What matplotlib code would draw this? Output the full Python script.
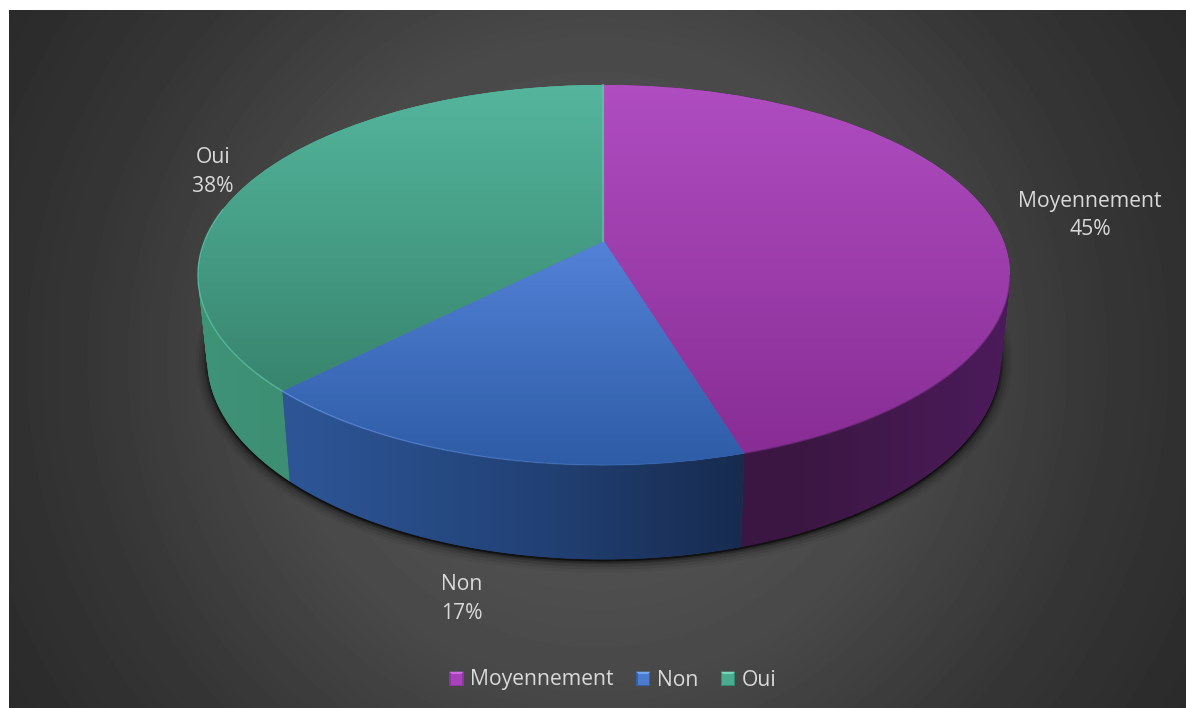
import numpy as np
import matplotlib
matplotlib.use("Agg")
import matplotlib.pyplot as plt
from matplotlib.collections import LineCollection
from matplotlib.colors import LinearSegmentedColormap, to_rgb
from matplotlib.legend_handler import HandlerBase
from matplotlib.patches import Patch, PathPatch, Polygon, Rectangle
from matplotlib.path import Path
from matplotlib.transforms import Transform

plt.rcParams["font.family"] = ["Open Sans", "DejaVu Sans"]

# donnees
categories = ["Moyennement", "Non", "Oui"]
values = [45.3, 17.1, 37.6]

# couleurs (haut, bas) de chaque part
top_colors = [("#AF4DC1", "#872C93"), ("#5382D8", "#2E5CA6"), ("#54B69D", "#37836C")]
top_spans = [(85, 465), (240, 465), (85, 400)]
wall_colors = [("#391640", "#3C1743", "#4C1B5B"), ("#2E5697", "#23447A", "#172B4F"), ("#3F9377", "#3B8970", "#367E67")]
rim_colors = ["#5A2266", "#6E9BE8", "#62CBAF"]
rim_alpha = [(0.7, 0.7), (0.7, 0.0), (0.7, 0.7)]
legend_colors = [("#8E35A2", "#CF6AE2", "#A841BA"), ("#34609F", "#76A5EE", "#4A7BCF"), ("#338A70", "#78D8BC", "#4AAB8F")]
label_xy = [(1090, 215.5), (462, 599), (213, 172)]


class PieProjection(Transform):
    # perspective du disque unite vers les pixels de l'image
    input_dims = 2
    output_dims = 2

    def __init__(self, a, b, k, cx, cy):
        super().__init__()
        self.a, self.b, self.k, self.cx, self.cy = a, b, k, cx, cy

    def transform_non_affine(self, values):
        u, v = np.asarray(values, dtype=float).T
        d = 1 + self.k * v
        return np.column_stack([self.cx + self.a * u / d, self.cy - self.b * v / d])


class BevelHandler(HandlerBase):
    def create_artists(self, legend, handle, x, y, w, h, fontsize, trans):
        dark, light, mid = handle.bevel
        s = 10.2
        x0 = x + (w - s) / 2
        y0 = y + (h - s) / 2 - 0.5
        e = 1.6
        base = Rectangle((x0, y0), s, s, fc=dark, ec="none", transform=trans)
        center = Rectangle((x0 + 1, y0 + 1), s - 2, s - 2, fc=mid, ec="none", transform=trans)
        top = Polygon([(x0, y0 + s), (x0 + s, y0 + s), (x0 + s - e, y0 + s - e), (x0 + e, y0 + s - e)],
                      fc=light, ec="none", transform=trans)
        return [base, center, top]


fig = plt.figure(figsize=(11.86, 7.08), dpi=100, facecolor="white")
ax = fig.add_axes([0, 0, 1, 1])

wedges, _ = ax.pie(values, startangle=90, counterclock=False, radius=1, colors=[c[0] for c in top_colors])
ax.set_aspect("auto")
ax.axis("off")

top_proj = PieProjection(399.5, 184, 0.179, 604, 241)
low_proj = PieProjection(390.5, 194, 0.179, 604, 323)
tangent = np.degrees(np.arcsin(0.179))

# fond degrade radial
yy, xx = np.mgrid[10:708, 9:1186]
r = np.hypot(xx - 597, yy - 359)
bg = np.interp(r, [0, 320, 507, 690], [90, 73, 54, 42]) / 255
ax.imshow(bg, extent=(9, 1186, 708, 10), cmap="gray", vmin=0, vmax=1, aspect="auto", zorder=0)


def arc(theta1, theta2, n=240):
    t = np.radians(np.linspace(theta1, theta2, n))
    return np.column_stack([np.cos(t), np.sin(t)])


def band_path(theta1, theta2):
    # flanc d'une part : petits quadrilateraux tous orientes pareil
    pts = arc(theta1, theta2)
    top = top_proj.transform(pts)
    low = low_proj.transform(pts)
    verts, codes = [], []
    for i in range(len(pts) - 1):
        q = np.array([top[i], top[i + 1], low[i + 1], low[i]])
        x, y = q.T
        if np.dot(x, np.roll(y, -1)) - np.dot(y, np.roll(x, -1)) < 0:
            q = q[::-1]
        verts += list(q) + [q[0]]
        codes += [Path.MOVETO, Path.LINETO, Path.LINETO, Path.LINETO, Path.CLOSEPOLY]
    return Path(verts, codes), np.vstack([top, low])


# ombre sous le camembert
outline = low_proj.transform(arc(0, 360, 360)) + [0, 2]
for lw, alpha in [(16, 0.05), (12, 0.08), (8, 0.12), (4, 0.2), (2, 0.2)]:
    ax.add_patch(Polygon(outline, closed=True, fc="black", ec="black", lw=lw, alpha=alpha, zorder=1))

# flancs
for w, stops in zip(wedges, wall_colors):
    path, pts = band_path(w.theta1, w.theta2)
    wall = PathPatch(path, fc=stops[1], ec="none", zorder=2)
    ax.add_patch(wall)
    x0, x1 = pts[:, 0].min(), pts[:, 0].max()
    cmap = LinearSegmentedColormap.from_list("wall", list(stops))
    im = ax.imshow(np.linspace(0, 1, 256)[None, :], extent=(x0, x1, 570, 240), cmap=cmap, aspect="auto", zorder=3)
    im.set_clip_path(wall)

# dessus des parts
for w, (c0, c1), (y0, y1), rim, (a0, a1) in zip(wedges, top_colors, top_spans, rim_colors, rim_alpha):
    w.set_transform(top_proj + ax.transData)
    w.set_linewidth(0)
    w.set_zorder(4)
    cmap = LinearSegmentedColormap.from_list("top", [c0, c1])
    im = ax.imshow(np.linspace(0, 1, 256)[:, None], extent=(190, 1020, y1, y0), cmap=cmap, aspect="auto", zorder=5)
    im.set_clip_path(w)
    # bord clair seulement sur l'avant
    t1 = max(w.theta1, -180 - tangent)
    t2 = min(w.theta2, -tangent)
    pts = top_proj.transform(arc(t1, t2))
    segs = np.stack([pts[:-1], pts[1:]], axis=1)
    order = np.linspace(a0, a1, len(segs))
    rgba = [(*to_rgb(rim), a) for a in order]
    ax.add_collection(LineCollection(segs, colors=rgba, linewidths=1, zorder=6))

# lisere clair a la jonction du haut
seam = top_proj.transform(np.array([[0, 0], [0, 1]]))
ax.plot(seam[:, 0] - 1, seam[:, 1], color="#72BDB0", lw=1.6, alpha=0.6, zorder=6)

ax.set_xlim(0, 1186)
ax.set_ylim(708, 0)

# etiquettes
for name, val, (tx, ty) in zip(categories, values, label_xy):
    ax.text(tx, ty, f"{name}\n{val:.0f}%", color="#D9D9D9", fontsize=15.2, ha="center", va="center",
            linespacing=1.44, zorder=8)

# legende
handles = []
for name, bevel in zip(categories, legend_colors):
    p = Patch(label=name)
    p.bevel = bevel
    handles.append(p)
ax.legend(handles=handles, handler_map={Patch: BevelHandler()}, ncol=3, frameon=False, loc="center",
          bbox_to_anchor=(612.5 / 1186, 1 - 680 / 708), fontsize=15.2, labelcolor="#D9D9D9",
          handlelength=0.72, handletextpad=0.28, columnspacing=1.05)

fig.savefig("out.png", dpi=100, facecolor="white")
